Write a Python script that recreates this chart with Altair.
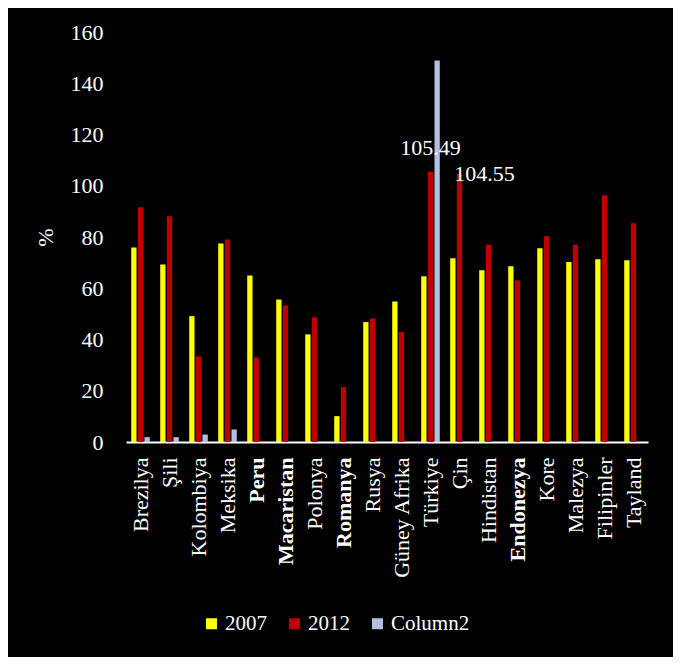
import altair as alt
import pandas as pd

countries = ["Brezilya", "Şili", "Kolombiya", "Meksika", "Peru", "Macaristan",
             "Polonya", "Romanya", "Rusya", "Güney Afrika", "Türkiye", "Çin",
             "Hindistan", "Endonezya", "Kore", "Malezya", "Filipinler", "Tayland"]
v2007 = [75.9, 69.3, 49.1, 77.5, 65.0, 55.6, 42.0, 10.1, 46.8, 54.8,
         64.7, 71.7, 67.0, 68.6, 75.6, 70.2, 71.3, 70.9]
v2012 = [91.6, 88.1, 33.4, 79.0, 33.0, 53.3, 48.7, 21.4, 48.2, 42.9,
         105.49, 104.55, 77.0, 63.0, 80.3, 77.0, 96.3, 85.4]
col2 = [1.9, 1.9, 2.9, 4.9, None, None, None, None, None, None,
        148.9, None, None, None, None, None, None, None]
series = ["2007", "2012", "Column2"]
colors = ["#FFFF00", "#C00000", "#B4C0E2"]
bold_labels = ["Peru", "Macaristan", "Romanya", "Endonezya"]

rows = []
for i, c in enumerate(countries):
    for s, vals in zip(series, [v2007, v2012, col2]):
        if vals[i] is not None:
            rows.append({"country": c, "series": s, "value": vals[i]})
df = pd.DataFrame(rows)

FONT = "Liberation Serif"
bold_test = " || ".join([f"datum.value == '{b}'" for b in bold_labels])

x_enc = alt.X("country:N", sort=countries, title=None,
              scale=alt.Scale(paddingInner=0.36, paddingOuter=0.18),
              axis=alt.Axis(labelAngle=-90, labelColor="white", labelFont=FONT,
                            labelFontSize=22, labelPadding=15, ticks=False,
                            domainColor="white", domainWidth=2,
                            labelFontWeight={"condition": {"test": bold_test, "value": "bold"},
                                             "value": "normal"}))
xo_enc = alt.XOffset("series:N", scale=alt.Scale(domain=series, paddingInner=0.2, paddingOuter=0))
y_enc = alt.Y("value:Q", title="%",
              scale=alt.Scale(domain=[0, 160], nice=False),
              axis=alt.Axis(values=list(range(0, 161, 20)), grid=False, domain=False,
                            ticks=False, labelColor="white", labelFont=FONT,
                            labelFontSize=22, labelPadding=23, titleColor="white",
                            titleFont=FONT, titleFontSize=22, titleFontWeight="normal",
                            titlePadding=13))

base = alt.Chart(df)
bars = base.mark_bar().encode(
    x=x_enc, xOffset=xo_enc, y=y_enc,
    color=alt.Color("series:N", scale=alt.Scale(domain=series, range=colors),
                    legend=alt.Legend(title=None, orient="none", direction="horizontal",
                                      legendX=75, legendY=581, padding=0,
                                      symbolType="square", symbolSize=121,
                                      symbolStrokeWidth=0, labelColor="white",
                                      labelFont=FONT, labelFontSize=21,
                                      columnPadding=17, labelOffset=3))
)

lab1 = base.transform_filter(
    "datum.series == '2012' && datum.country == 'Türkiye'"
).mark_text(color="white", font=FONT, fontSize=22, dy=-17, baseline="alphabetic").encode(
    x=alt.X("country:N", sort=countries), xOffset=alt.XOffset("series:N"), y="value:Q",
    text=alt.Text("value:Q", format=".2f"))
lab2 = base.transform_filter(
    "datum.series == '2012' && datum.country == 'Çin'"
).mark_text(color="white", font=FONT, fontSize=22, dx=25, dy=7, baseline="alphabetic").encode(
    x=alt.X("country:N", sort=countries), xOffset=alt.XOffset("series:N"), y="value:Q",
    text=alt.Text("value:Q", format=".2f"))

chart = alt.layer(bars, lab1, lab2).properties(
    width=522, height=410, background="black",
    autosize=alt.AutoSizeParams(type="none"),
    padding={"left": 118, "top": 24, "right": 25, "bottom": 215}
).configure_view(stroke=None)

chart.save("out.html", embed_options={"renderer": "svg", "actions": False})
